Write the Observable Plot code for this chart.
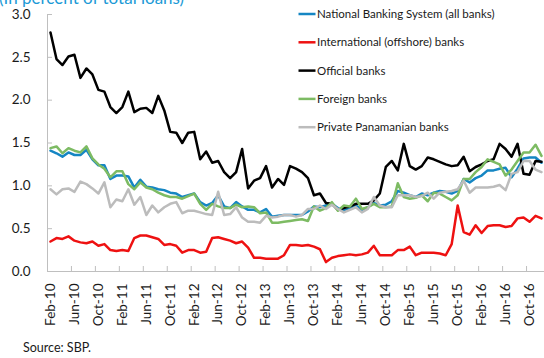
<!DOCTYPE html>
<html><head><meta charset="utf-8">
<script src="https://cdn.jsdelivr.net/npm/d3@7"></script>
<script src="https://cdn.jsdelivr.net/npm/@observablehq/plot@0.6"></script>
<style>
html,body{margin:0;padding:0;background:#fff;}
#chart{position:relative;width:544px;height:358px;overflow:hidden;}
</style></head><body><div id="chart"></div>
<script>
const title = "(In percent of total loans)";
const source = "Source: SBP.";
const tickLabels = ["Feb-10","Jun-10","Oct-10","Feb-11","Jun-11","Oct-11","Feb-12","Jun-12","Oct-12","Feb-13","Jun-13","Oct-13","Feb-14","Jun-14","Oct-14","Feb-15","Jun-15","Oct-15","Feb-16","Jun-16","Oct-16"];
const yTicks = [0, 0.5, 1, 1.5, 2, 2.5, 3];
const seriesNames = ["National Banking System (all banks)", "International (offshore) banks", "Official banks", "Foreign banks", "Private Panamanian banks"];
const seriesColors = ["#1586c3", "#ee1111", "#000000", "#7dbb63", "#bcbcbc"];

// Monthly values, Feb-10 .. Dec-16
const nbs = [1.41,1.38,1.34,1.39,1.36,1.36,1.42,1.31,1.24,1.24,1.08,1.12,1.12,1.11,0.98,1.07,0.99,0.98,0.96,0.95,
  0.92,0.91,0.87,0.89,0.91,0.81,0.77,0.80,0.89,0.76,0.74,0.81,0.76,0.72,0.72,0.69,0.73,0.64,0.65,0.66,
  0.66,0.66,0.66,0.70,0.76,0.75,0.77,0.79,0.74,0.71,0.74,0.77,0.72,0.75,0.80,0.77,0.78,0.82,0.94,0.92,
  0.89,0.87,0.91,0.89,0.92,0.94,0.93,0.91,0.94,1.08,1.04,1.09,1.12,1.18,1.18,1.20,1.21,1.10,1.20,1.32,
  1.33,1.33,1.27];
const international = [0.35,0.39,0.38,0.41,0.36,0.34,0.33,0.35,0.30,0.32,0.25,0.24,0.25,0.24,0.39,0.42,0.42,0.40,0.38,0.31,
  0.32,0.30,0.22,0.25,0.25,0.22,0.23,0.39,0.40,0.38,0.36,0.33,0.35,0.28,0.16,0.16,0.15,0.15,0.15,0.19,
  0.31,0.31,0.30,0.31,0.29,0.26,0.11,0.16,0.18,0.19,0.20,0.19,0.20,0.22,0.30,0.19,0.19,0.19,0.25,0.25,
  0.29,0.19,0.22,0.22,0.22,0.21,0.19,0.32,0.77,0.46,0.43,0.54,0.45,0.53,0.54,0.54,0.52,0.53,0.62,0.63,
  0.58,0.65,0.62];
const official = [2.79,2.48,2.41,2.51,2.53,2.26,2.37,2.30,2.12,2.10,1.92,1.85,1.92,2.10,1.86,1.90,1.91,1.85,2.05,1.88,
  1.63,1.62,1.50,1.62,1.63,1.31,1.40,1.27,1.29,1.16,1.09,1.16,1.43,0.97,1.06,1.09,1.23,0.98,1.08,1.01,
  1.23,1.20,1.16,1.09,0.89,0.91,0.80,0.79,0.72,0.74,0.76,0.79,0.79,0.79,0.83,0.91,1.22,1.29,1.18,1.49,
  1.23,1.19,1.23,1.33,1.31,1.28,1.25,1.23,1.24,1.34,1.17,1.22,1.25,1.29,1.31,1.49,1.43,1.34,1.49,1.14,
  1.13,1.29,1.28];
const foreign = [1.44,1.46,1.38,1.44,1.41,1.39,1.46,1.32,1.25,1.20,1.10,1.17,1.17,1.02,0.96,1.04,0.98,0.96,0.92,0.89,
  0.87,0.87,0.85,0.88,0.91,0.79,0.72,0.79,0.76,0.74,0.74,0.78,0.75,0.76,0.75,0.68,0.69,0.57,0.57,0.58,
  0.59,0.60,0.61,0.59,0.76,0.71,0.74,0.81,0.71,0.77,0.76,0.85,0.73,0.75,0.79,0.75,0.75,0.76,1.03,0.87,
  0.85,0.86,0.89,0.82,0.92,0.91,0.87,0.83,0.89,1.08,1.08,1.16,1.22,1.31,1.28,1.25,1.12,1.19,1.29,1.39,
  1.39,1.48,1.35];
const privatePan = [0.96,0.90,0.96,0.97,0.93,1.05,1.02,0.97,0.91,1.04,0.75,0.84,0.82,0.96,0.78,0.87,0.66,0.77,0.69,0.75,
  0.79,0.81,0.68,0.71,0.71,0.69,0.67,0.66,0.93,0.66,0.67,0.75,0.63,0.58,0.58,0.57,0.65,0.63,0.64,0.66,
  0.66,0.64,0.66,0.73,0.73,0.77,0.73,0.78,0.73,0.69,0.72,0.75,0.69,0.73,0.87,0.77,0.75,0.75,0.89,0.89,
  0.89,0.87,0.88,0.92,0.85,0.92,0.93,0.94,0.96,1.06,0.92,0.98,0.98,0.98,0.99,1.01,0.95,1.14,1.16,1.29,
  1.29,1.19,1.16];

const seriesValues = [nbs, international, official, foreign, privatePan];
const rows = [];
seriesValues.forEach((vals, k) => vals.forEach((v, i) => rows.push({i, v, s: seriesNames[k]})));
const labelPos = tickLabels.map((_, j) => j * 4);
const boundaries = labelPos.map(p => p - 0.5);
const lastIndex = nbs.length - 1;

const FONT = "Lato, 'Open Sans', sans-serif";
const axisGray = "#bfbfbf";

const plot = Plot.plot({
  width: 544, height: 358,
  marginLeft: 47, marginRight: 0, marginTop: 14, marginBottom: 87,
  x: {type: "linear", domain: [-0.5, lastIndex + 0.5]},
  y: {domain: [0, 3]},
  color: {domain: seriesNames, range: seriesColors},
  style: {fontFamily: FONT, background: "#fff", color: "#1a1a1a", overflow: "visible"},
  marks: [
    Plot.ruleX([-0.5], {stroke: axisGray}),
    Plot.ruleY([0], {stroke: axisGray}),
    Plot.axisY({ticks: yTicks, tickSize: -5, stroke: axisGray, tickFormat: () => "", label: null}),
    Plot.axisY({ticks: yTicks, tickSize: 0, tickPadding: 17, tickFormat: d3.format(".1f"), fontSize: 13.5, fill: "#1a1a1a", label: null}),
    Plot.axisX({ticks: boundaries, tickSize: -5, stroke: axisGray, tickFormat: () => "", label: null}),
    Plot.axisX({ticks: labelPos, tickSize: 0, tickPadding: 12, tickRotate: -90, tickFormat: d => tickLabels[d / 4], fontSize: 13.5, fill: "#1a1a1a", label: null}),
    Plot.line(rows, {x: "i", y: "v", z: "s", stroke: "s", strokeWidth: 2.5, strokeLinejoin: "round"})
  ]
});

const svg = d3.select(plot);
// title (cut at top, as in reference)
svg.append("text").attr("x", -1).attr("y", 3.5).attr("fill", "#1c9ad6").attr("text-anchor", "start")
  .attr("font-family", FONT).attr("font-size", 17).text(title);
// legend
const lg = svg.append("g").attr("font-family", FONT).attr("font-size", 11.5).attr("fill", "#1a1a1a").attr("text-anchor", "start");
seriesNames.forEach((name, k) => {
  const y = 14 + 28.3 * k;
  lg.append("line").attr("x1", 298.5).attr("x2", 315.5).attr("y1", y).attr("y2", y)
    .attr("stroke", seriesColors[k]).attr("stroke-width", 2.5);
  lg.append("text").attr("x", 317).attr("y", y).attr("dy", "0.35em").attr("text-anchor", "start").text(name);
});
// source
svg.append("text").attr("x", 23).attr("y", 352).attr("font-family", FONT).attr("font-size", 12.5)
  .attr("text-anchor", "start").attr("fill", "#1a1a1a").text(source);

document.getElementById("chart").appendChild(plot);
</script></body></html>
